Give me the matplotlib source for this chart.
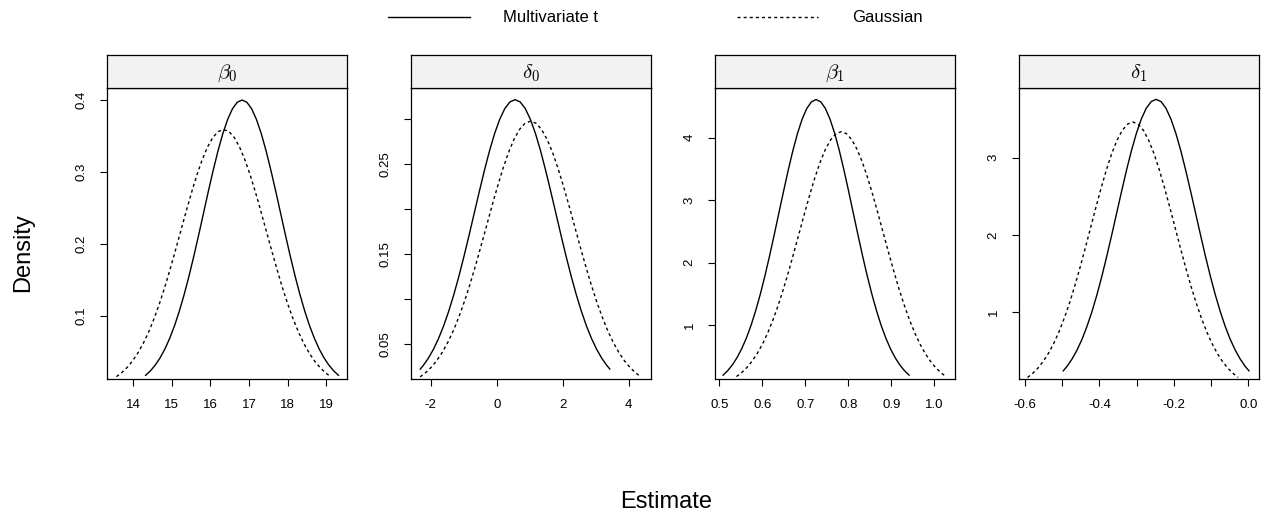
import matplotlib.pyplot as plt
from matplotlib.lines import Line2D

plt.rcParams['font.family'] = ['Liberation Sans', 'DejaVu Sans']
plt.rcParams['mathtext.fontset'] = 'cm'
plt.rcParams['lines.scale_dashes'] = False

# ---------------------------------------------------------------------------
# Posterior density estimates for each parameter
# ---------------------------------------------------------------------------
params = [r'$\beta_0$', r'$\delta_0$', r'$\beta_1$', r'$\delta_1$']

# beta_0
b0_t_x = [14.320, 14.445, 14.570, 14.695, 14.820, 14.945, 15.070, 15.195, 15.320, 15.445,
          15.570, 15.695, 15.820, 15.945, 16.070, 16.195, 16.320, 16.445, 16.570, 16.695,
          16.820, 16.945, 17.070, 17.195, 17.320, 17.445, 17.570, 17.695, 17.820, 17.945,
          18.070, 18.195, 18.320, 18.445, 18.570, 18.695, 18.820, 18.945, 19.070, 19.195, 19.320]
b0_t_y = [0.0176, 0.0238, 0.0318, 0.0418, 0.0541, 0.0690, 0.0865, 0.1068, 0.1299, 0.1554,
          0.1831, 0.2124, 0.2426, 0.2728, 0.3019, 0.3290, 0.3530, 0.3728, 0.3877, 0.3969,
          0.4000, 0.3969, 0.3877, 0.3728, 0.3530, 0.3290, 0.3019, 0.2728, 0.2426, 0.2124,
          0.1831, 0.1554, 0.1299, 0.1068, 0.0865, 0.0690, 0.0541, 0.0418, 0.0318, 0.0238, 0.0176]
b0_g_x = [13.565, 13.704, 13.843, 13.981, 14.120, 14.259, 14.398, 14.536, 14.675, 14.814,
          14.953, 15.091, 15.230, 15.369, 15.508, 15.646, 15.785, 15.924, 16.063, 16.201,
          16.340, 16.479, 16.618, 16.756, 16.895, 17.034, 17.173, 17.311, 17.450, 17.589,
          17.728, 17.866, 18.005, 18.144, 18.283, 18.421, 18.560, 18.699, 18.838, 18.976, 19.115]
b0_g_y = [0.0158, 0.0214, 0.0286, 0.0375, 0.0486, 0.0619, 0.0776, 0.0959, 0.1165, 0.1395,
          0.1644, 0.1907, 0.2177, 0.2448, 0.2710, 0.2953, 0.3168, 0.3346, 0.3480, 0.3562,
          0.3590, 0.3562, 0.3480, 0.3346, 0.3168, 0.2953, 0.2710, 0.2448, 0.2177, 0.1907,
          0.1644, 0.1395, 0.1165, 0.0959, 0.0776, 0.0619, 0.0486, 0.0375, 0.0286, 0.0214, 0.0158]

# delta_0
d0_t_x = [-2.320, -2.233, -2.078, -1.923, -1.769, -1.614, -1.459, -1.304, -1.149, -0.994,
          -0.839, -0.684, -0.529, -0.374, -0.220, -0.065, 0.090, 0.245, 0.400, 0.555,
          0.710, 0.865, 1.020, 1.175, 1.330, 1.484, 1.639, 1.794, 1.949, 2.104,
          2.259, 2.414, 2.569, 2.723, 2.879, 3.033, 3.188, 3.343, 3.430]
d0_t_y = [0.0218, 0.0256, 0.0337, 0.0436, 0.0555, 0.0696, 0.0860, 0.1045, 0.1251, 0.1474,
          0.1710, 0.1953, 0.2196, 0.2431, 0.2649, 0.2842, 0.3001, 0.3121, 0.3195, 0.3220,
          0.3195, 0.3121, 0.3001, 0.2842, 0.2649, 0.2431, 0.2196, 0.1953, 0.1710, 0.1474,
          0.1251, 0.1045, 0.0860, 0.0696, 0.0555, 0.0436, 0.0337, 0.0256, 0.0218]
d0_g_x = [-2.323, -2.155, -1.988, -1.820, -1.653, -1.486, -1.318, -1.151, -0.984, -0.816,
          -0.649, -0.482, -0.314, -0.147, 0.021, 0.188, 0.356, 0.523, 0.690, 0.858,
          1.025, 1.192, 1.360, 1.527, 1.695, 1.862, 2.029, 2.197, 2.364, 2.531,
          2.699, 2.866, 3.034, 3.201, 3.368, 3.536, 3.703, 3.870, 4.038, 4.205, 4.373]
d0_g_y = [0.0131, 0.0178, 0.0237, 0.0312, 0.0403, 0.0514, 0.0644, 0.0796, 0.0967, 0.1158,
          0.1364, 0.1583, 0.1807, 0.2032, 0.2249, 0.2451, 0.2630, 0.2778, 0.2888, 0.2957,
          0.2980, 0.2957, 0.2888, 0.2778, 0.2630, 0.2451, 0.2249, 0.2032, 0.1807, 0.1583,
          0.1364, 0.1158, 0.0967, 0.0796, 0.0644, 0.0514, 0.0403, 0.0312, 0.0237, 0.0178, 0.0131]

# beta_1
b1_t_x = [0.5088, 0.5196, 0.5304, 0.5412, 0.5520, 0.5629, 0.5737, 0.5845, 0.5953, 0.6061,
          0.6169, 0.6277, 0.6385, 0.6494, 0.6602, 0.6710, 0.6818, 0.6926, 0.7034, 0.7142,
          0.7250, 0.7358, 0.7466, 0.7574, 0.7683, 0.7791, 0.7899, 0.8007, 0.8115, 0.8223,
          0.8331, 0.8439, 0.8548, 0.8656, 0.8764, 0.8872, 0.8980, 0.9088, 0.9196, 0.9304, 0.9413]
b1_t_y = [0.2026, 0.2747, 0.3668, 0.4821, 0.6239, 0.7949, 0.9970, 1.2311, 1.4966, 1.7913,
          2.1106, 2.4484, 2.7961, 3.1437, 3.4798, 3.7921, 4.0683, 4.2970, 4.4682, 4.5741,
          4.6100, 4.5741, 4.4682, 4.2970, 4.0683, 3.7921, 3.4798, 3.1437, 2.7961, 2.4484,
          2.1106, 1.7913, 1.4966, 1.2311, 0.9970, 0.7949, 0.6239, 0.4821, 0.3668, 0.2747, 0.2026]
b1_g_x = [0.5400, 0.5522, 0.5644, 0.5765, 0.5887, 0.6009, 0.6131, 0.6252, 0.6374, 0.6496,
          0.6618, 0.6739, 0.6861, 0.6983, 0.7105, 0.7226, 0.7348, 0.7470, 0.7592, 0.7713,
          0.7835, 0.7957, 0.8079, 0.8200, 0.8322, 0.8444, 0.8566, 0.8687, 0.8809, 0.8931,
          0.9053, 0.9174, 0.9296, 0.9418, 0.9540, 0.9661, 0.9783, 0.9905, 1.0027, 1.0148, 1.0270]
b1_g_y = [0.1800, 0.2440, 0.3259, 0.4284, 0.5544, 0.7063, 0.8858, 1.0938, 1.3298, 1.5915,
          1.8753, 2.1754, 2.4843, 2.7932, 3.0918, 3.3693, 3.6147, 3.8179, 3.9700, 4.0641,
          4.0960, 4.0641, 3.9700, 3.8179, 3.6147, 3.3693, 3.0918, 2.7932, 2.4843, 2.1754,
          1.8753, 1.5915, 1.3298, 1.0938, 0.8858, 0.7063, 0.5544, 0.4284, 0.3259, 0.2440, 0.1800]

# delta_1
d1_t_x = [-0.4971, -0.4865, -0.4732, -0.4599, -0.4466, -0.4334, -0.4201, -0.4068, -0.3935, -0.3803,
          -0.3670, -0.3537, -0.3404, -0.3272, -0.3139, -0.3006, -0.2873, -0.2741, -0.2608, -0.2475,
          -0.2342, -0.2210, -0.2077, -0.1944, -0.1811, -0.1679, -0.1546, -0.1413, -0.1280, -0.1148,
          -0.1015, -0.0882, -0.0749, -0.0617, -0.0484, -0.0351, -0.0218, -0.0086, 0.0021]
d1_t_y = [0.2374, 0.2988, 0.3928, 0.5083, 0.6476, 0.8123, 1.0030, 1.2194, 1.4594, 1.7196,
          1.9948, 2.2781, 2.5614, 2.8352, 3.0896, 3.3147, 3.5010, 3.6404, 3.7267, 3.7560,
          3.7267, 3.6404, 3.5010, 3.3147, 3.0896, 2.8352, 2.5614, 2.2781, 1.9948, 1.7196,
          1.4594, 1.2194, 1.0030, 0.8123, 0.6476, 0.5083, 0.3928, 0.2988, 0.2374]
d1_g_x = [-0.5930, -0.5789, -0.5647, -0.5506, -0.5364, -0.5223, -0.5081, -0.4940, -0.4798, -0.4657,
          -0.4515, -0.4374, -0.4232, -0.4091, -0.3949, -0.3808, -0.3666, -0.3525, -0.3383, -0.3242,
          -0.3100, -0.2959, -0.2817, -0.2676, -0.2534, -0.2393, -0.2251, -0.2110, -0.1968, -0.1827,
          -0.1685, -0.1544, -0.1402, -0.1261, -0.1119, -0.0978, -0.0836, -0.0695, -0.0553, -0.0412, -0.0270]
d1_g_y = [0.1521, 0.2063, 0.2754, 0.3621, 0.4685, 0.5969, 0.7487, 0.9245, 1.1239, 1.3452,
          1.5850, 1.8387, 2.0998, 2.3609, 2.6133, 2.8478, 3.0552, 3.2269, 3.3555, 3.4351,
          3.4620, 3.4351, 3.3555, 3.2269, 3.0552, 2.8478, 2.6133, 2.3609, 2.0998, 1.8387,
          1.5850, 1.3452, 1.1239, 0.9245, 0.7487, 0.5969, 0.4685, 0.3621, 0.2754, 0.2063, 0.1521]

curves_t = [(b0_t_x, b0_t_y), (d0_t_x, d0_t_y), (b1_t_x, b1_t_y), (d1_t_x, d1_t_y)]
curves_g = [(b0_g_x, b0_g_y), (d0_g_x, d0_g_y), (b1_g_x, b1_g_y), (d1_g_x, d1_g_y)]

# axis ranges and ticks
xlims = [(13.32, 19.54), (-2.61, 4.67), (0.49, 1.048), (-0.616, 0.029)]
ylims = [(0.0125, 0.4167), (0.0107, 0.335), (0.141, 4.795), (0.132, 3.903)]

xticks = [[14, 15, 16, 17, 18, 19],
          [-2, 0, 2, 4],
          [0.5, 0.6, 0.7, 0.8, 0.9, 1.0],
          [-0.6, -0.5, -0.4, -0.3, -0.2, -0.1, 0.0]]
xticklabels = [['14', '15', '16', '17', '18', '19'],
               ['-2', '0', '2', '4'],
               ['0.5', '0.6', '0.7', '0.8', '0.9', '1.0'],
               ['-0.6', '', '-0.4', '', '-0.2', '', '0.0']]
yticks = [[0.1, 0.2, 0.3, 0.4],
          [0.05, 0.10, 0.15, 0.20, 0.25, 0.30],
          [1, 2, 3, 4],
          [1, 2, 3]]
yticklabels = [['0.1', '0.2', '0.3', '0.4'],
               ['0.05', '', '0.15', '', '0.25', ''],
               ['1', '2', '3', '4'],
               ['1', '2', '3']]

legend_labels = ['Multivariate t', 'Gaussian']

# ---------------------------------------------------------------------------
# Figure
# ---------------------------------------------------------------------------
W, H = 1270, 518
fig = plt.figure(figsize=(W / 100, H / 100), dpi=100)

panel_left = [107, 410.7, 715, 1019]
panel_w = 240
plot_top, plot_bot, strip_top = 88, 379, 55

dash = (0, (2.2, 2.2))

for i in range(4):
    l = panel_left[i]
    ax = fig.add_axes([l / W, 1 - plot_bot / H, panel_w / W, (plot_bot - plot_top) / H])
    ax.plot(*curves_t[i], color='black', lw=1.0, solid_joinstyle='round')
    ax.plot(*curves_g[i], color='black', lw=1.0, linestyle=dash)
    ax.set_xlim(*xlims[i])
    ax.set_ylim(*ylims[i])
    ax.set_xticks(xticks[i])
    ax.set_xticklabels(xticklabels[i], fontsize=9.5)
    ax.set_yticks(yticks[i])
    ax.set_yticklabels(yticklabels[i], fontsize=9.5, rotation=90, va='center')
    ax.tick_params(direction='out', length=5, width=0.8, colors='black')
    ax.tick_params(axis='x', pad=9.5)
    ax.tick_params(axis='y', pad=9)
    for sp in ax.spines.values():
        sp.set_linewidth(0.9)

    # strip header with parameter name
    st = fig.add_axes([l / W, 1 - plot_top / H, panel_w / W, (plot_top - strip_top) / H])
    st.set_facecolor('#f2f2f2')
    st.set_xticks([])
    st.set_yticks([])
    for sp in st.spines.values():
        sp.set_linewidth(0.9)
    st.text(0.5, 0.45, params[i], ha='center', va='center', fontsize=15,
            transform=st.transAxes)

# legend across the top
fig.add_artist(Line2D([388 / W, 470 / W], [1 - 17 / H, 1 - 17 / H],
                      color='black', lw=1.0, transform=fig.transFigure))
fig.text(503 / W, 1 - 17 / H, legend_labels[0], fontsize=12, va='center', ha='left')
fig.add_artist(Line2D([737 / W, 818 / W], [1 - 17 / H, 1 - 17 / H],
                      color='black', lw=1.0, linestyle=dash, transform=fig.transFigure))
fig.text(852 / W, 1 - 17 / H, legend_labels[1], fontsize=12, va='center', ha='left')

fig.text(23 / W, 1 - 253 / H, 'Density', fontsize=17, rotation=90, ha='center', va='center')
fig.text(666 / W, 1 - 502 / H, 'Estimate', fontsize=17, ha='center', va='center')

fig.savefig('out.png', dpi=100)
